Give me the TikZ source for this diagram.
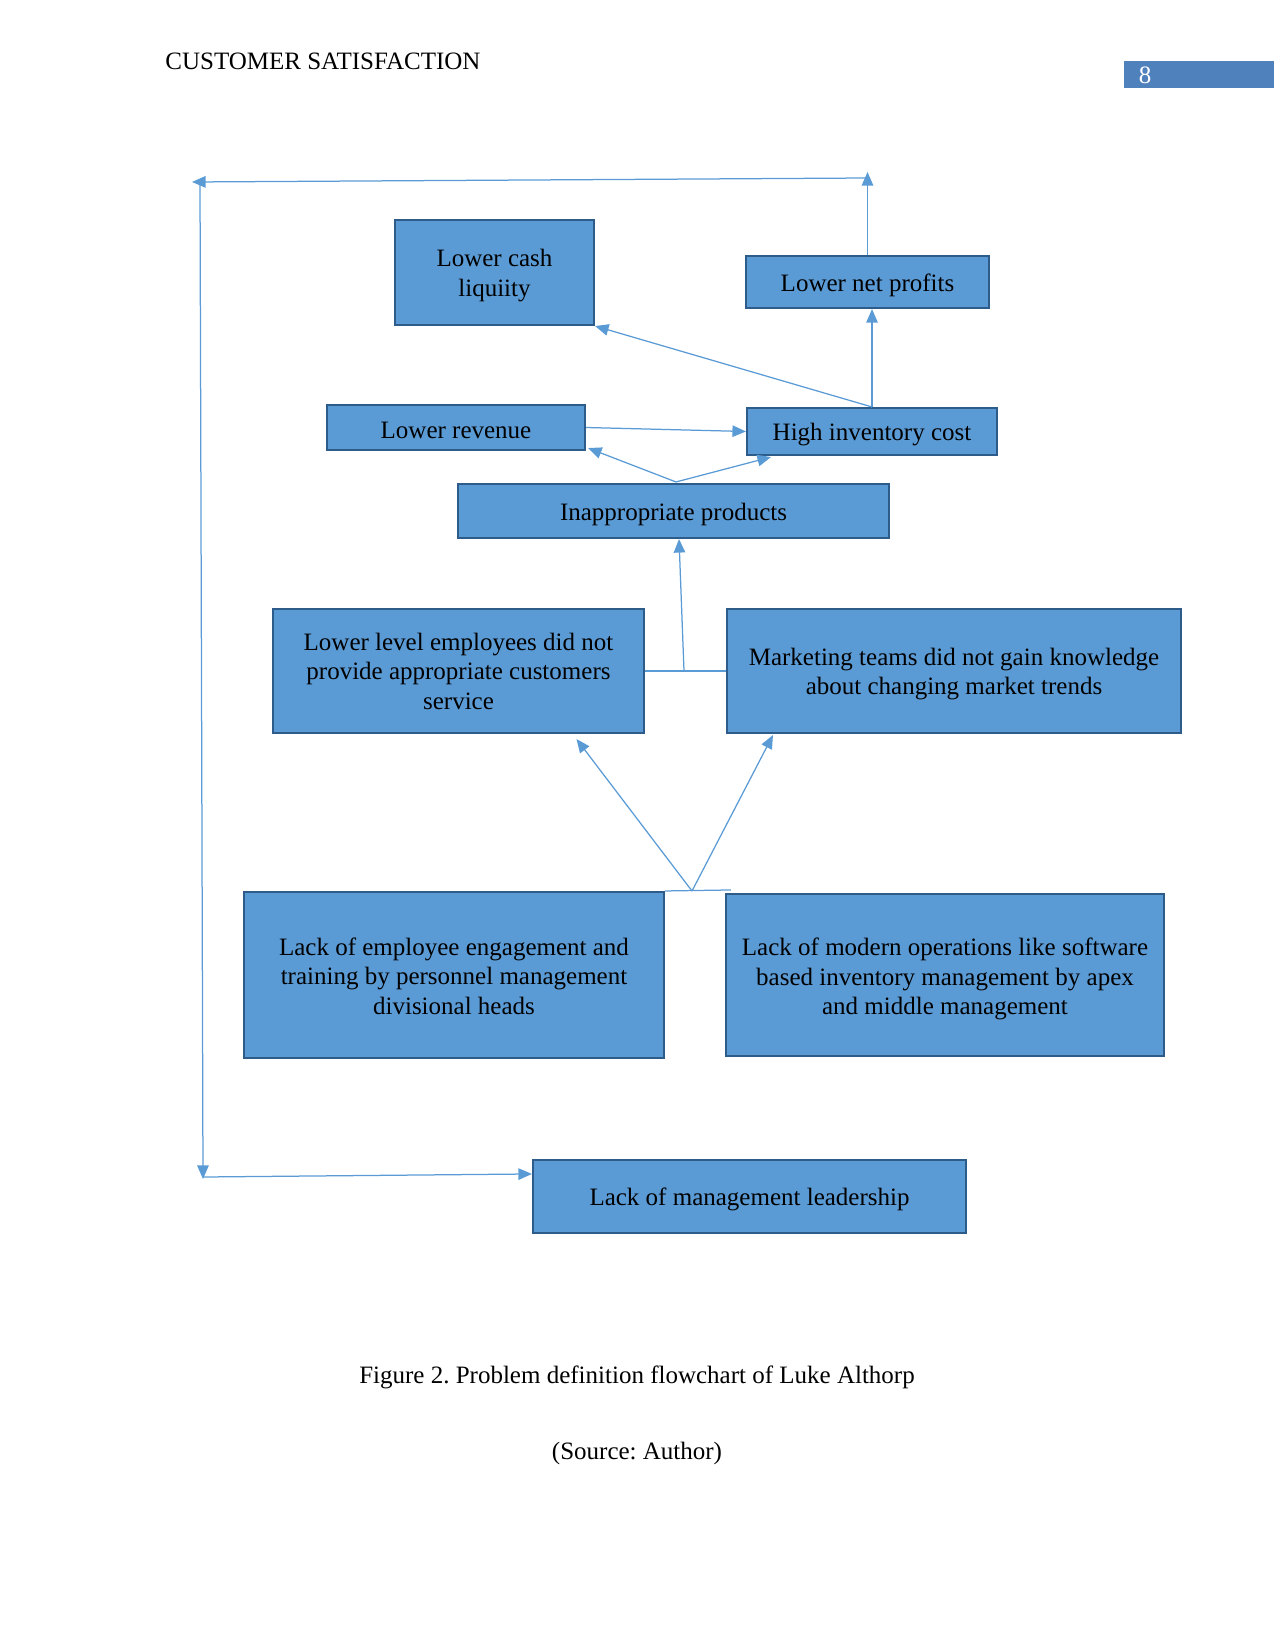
\documentclass[tikz,border=0pt]{standalone}
\usepackage{fontspec}
\setmainfont{Liberation Serif}
\usetikzlibrary{arrows.meta,fit,calc}
\definecolor{boxfill}{HTML}{5B9BD5}
\definecolor{boxline}{HTML}{2E5C8A}
\definecolor{arr}{HTML}{5B9BD5}
\definecolor{pgbox}{HTML}{4F81BD}
\frenchspacing
\begin{document}
\begin{tikzpicture}[x=0.48pt,y=-0.48pt,
  box/.style={draw=boxline, fill=boxfill, line width=1pt, inner sep=0pt},
  txt/.style={align=center, inner sep=0pt, yshift=-1.5pt, font=\fontsize{12}{14.2}\selectfont},
  conn/.style={draw=arr, line width=0.6pt},
  arrowed/.style={-{Triangle[length=6.5pt,width=5.5pt]}},
  plain/.style={font=\fontsize{12}{14.4}\selectfont, inner sep=0pt}]
\useasboundingbox (0,0) rectangle (1275,1651);
% header
\node[plain, anchor=west] (hdr) at (165,61) {CUSTOMER SATISFACTION};
\node[fill=pgbox, inner sep=0pt, fit={(1124,61)(1274,88)}] (pg) {};
\node[plain, text=white] (pgn) at (1145,75) {8};
% boxes
\node[box, fit={(395,220)(594,325)}] (lc) {};
\node[txt] (lct) at (lc.center) {Lower cash\\liquiity};
\node[box, fit={(746,256)(989,308)}] (lnp) {};
\node[txt] (lnpt) at (lnp.center) {Lower net profits};
\node[box, fit={(327,405)(585,450)}] (lr) {};
\node[txt] (lrt) at (lr.center) {Lower revenue};
\node[box, fit={(747,408)(997,455)}] (hic) {};
\node[txt] (hict) at (hic.center) {High inventory cost};
\node[box, fit={(458,484)(889,538)}] (ip) {};
\node[txt] (ipt0) at (ip.center) {Inappropriate products};
\node[box, fit={(273,609)(644,733)}] (lle) {};
\node[txt] (llet) at ($(lle.center)+(0,-3)$) {Lower level employees did not\\provide appropriate customers\\service};
\node[box, fit={(727,609)(1181,733)}] (mkt) {};
\node[txt] (mktt) at (mkt.center) {Marketing teams did not gain knowledge\\about changing market trends};
\node[box, fit={(244,892)(664,1058)}] (lee) {};
\node[txt] (leet) at ($(lee.center)+(0,-2)$) {Lack of employee engagement and\\training by personnel management\\divisional heads};
\node[box, fit={(726,894)(1164,1056)}] (lmo) {};
\node[txt] (lmot) at ($(lmo.center)+(0,1)$) {Lack of modern operations like software\\based inventory management by apex\\and middle management};
\node[box, fit={(533,1160)(966,1233)}] (lml) {};
\node[txt] (lmlt) at (lml.center) {Lack of management leadership};
% loop
\coordinate (lt) at (867.5,172);
\coordinate (tr) at (867.5,178);
\coordinate (tl) at (192,182);
\coordinate (vt) at (200,182);
\coordinate (vb) at (203,1179);
\coordinate (bl) at (203,1177);
\draw[conn,arrowed] (lnp.north) -- (lt);
\draw[conn,arrowed] (tr) -- (tl);
\draw[conn,arrowed] (vt) -- (vb);
\draw[conn,arrowed] (bl) -- ($(lml.north west)+(0,15)$);
% upper connectors
\draw[conn,arrowed] (hic.north) -- (hic.north |- lnp.south);
\draw[conn,arrowed] (hic.north) -- (lc.south east);
\draw[conn,arrowed] (lr.east) -- (hic.west);
\coordinate (ipt) at ($(ip.north)+(2.5,-1)$);
\draw[conn,arrowed] (ipt) -- ($(lr.south east)+(2,-3)$);
\draw[conn,arrowed] (ipt) -- ($(hic.south west)+(25,1)$);
% middle
\coordinate (mj) at (684,671);
\draw[conn] (lle.east) -- (mkt.west);
\draw[conn,arrowed] (mj) -- ($(ip.south)+(5.5,0)$);
% bottom
\coordinate (bj) at (692,891);
\draw[conn] (lee.north east) -- ($(lmo.north west)+(6,-3)$);
\draw[conn,arrowed] (bj) -- ($(lle.south)+(118,5)$);
\draw[conn,arrowed] (bj) -- ($(mkt.south west)+(47,1)$);
% caption
\node[plain] (cap) at (637,1377) {Figure 2. Problem definition flowchart of Luke Althorp};
\node[plain] (src) at (637,1453) {(Source: Author)};
\end{tikzpicture}
\end{document}
